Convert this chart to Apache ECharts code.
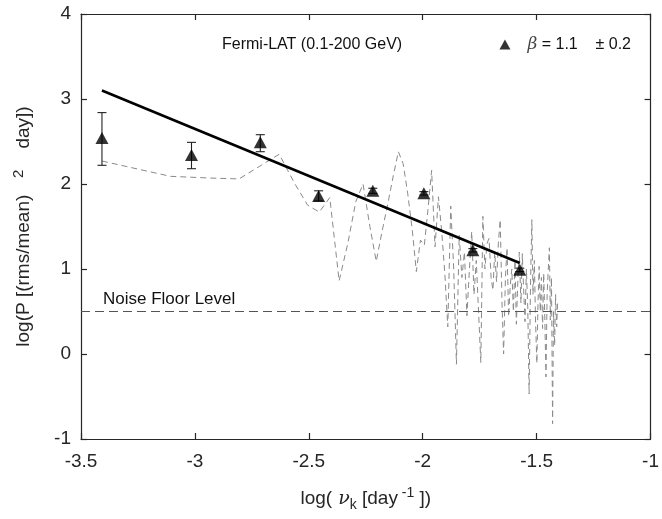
<!DOCTYPE html>
<html>
<head>
<meta charset="utf-8">
<script src="https://cdn.jsdelivr.net/npm/echarts@6/dist/echarts.min.js"></script>
<style>
html,body{margin:0;padding:0;background:#fff;}
#c{width:662px;height:519px;}
</style>
</head>
<body>
<div id="c"></div>
<script>
// ---- data ----
const xTicks = [-3.5, -3, -2.5, -2, -1.5, -1];
const yTicks = [-1, 0, 1, 2, 3, 4];

// periodogram (grey dashed line)
const periodX = [-3.408,-3.107,-2.931,-2.806,-2.709,-2.630,-2.563,-2.505,-2.454,-2.408,
  -2.367,-2.329,-2.294,-2.262,-2.232,-2.204,-2.178,-2.153,-2.129,-2.107,
  -2.086,-2.066,-2.046,-2.028,-2.010,-1.993,-1.977,-1.961,-1.946,-1.931,
  -1.917,-1.903,-1.890,-1.877,-1.864,-1.852,-1.840,-1.828,-1.817,-1.806,
  -1.795,-1.785,-1.775,-1.765,-1.755,-1.745,-1.736,-1.727,-1.718,-1.709,
  -1.700,-1.692,-1.684,-1.676,-1.668,-1.660,-1.652,-1.645,-1.637,-1.630,
  -1.623,-1.616,-1.609,-1.602,-1.595,-1.589,-1.582,-1.576,-1.569,-1.563,
  -1.557,-1.551,-1.545,-1.539,-1.533,-1.527,-1.521,-1.516,-1.510,-1.505,
  -1.499,-1.494,-1.489,-1.484,-1.479,-1.474,-1.469,-1.464,-1.459,-1.454,
  -1.449,-1.444,-1.440,-1.435,-1.430,-1.426,-1.421,-1.417,-1.412,-1.408];
const periodY = [2.27,2.09,2.07,2.06,2.22,2.35,2.01,1.75,1.67,1.84,
  0.86,1.30,1.79,2.00,1.50,1.09,1.45,1.77,2.10,2.38,
  2.24,1.89,1.46,0.97,1.34,1.28,1.70,2.16,1.26,1.85,
  1.45,0.95,0.32,1.74,1.00,-0.12,1.40,0.90,1.20,0.45,
  1.00,1.44,0.70,1.10,0.50,-0.10,1.62,1.00,1.30,1.36,
  0.90,0.75,1.20,0.85,1.30,1.58,0.60,0.00,0.90,1.25,
  0.44,0.80,1.00,0.50,1.10,0.35,0.90,1.20,0.60,1.18,
  0.75,0.38,1.00,0.55,-0.47,0.80,1.58,0.70,1.10,0.40,
  -0.11,0.60,1.03,0.50,0.90,0.30,0.95,0.40,-0.27,0.70,
  1.00,1.25,0.40,0.90,-0.82,0.50,0.10,0.70,0.32,0.60];

// binned points with error bars
const binX  = [-3.408,-3.015,-2.713,-2.457,-2.219,-1.995,-1.780,-1.574];
const binY  = [2.54, 2.34, 2.49, 1.86, 1.92, 1.89, 1.22, 0.99];
const binLo = [2.22, 2.18, 2.38, 1.80, 1.89, 1.87, 1.20, 0.97];
const binHi = [2.84, 2.49, 2.58, 1.92, 1.95, 1.91, 1.24, 1.01];

// power-law fit
const fitX = [-3.408, -1.574];
const fitY = [3.10, 1.07];

const noiseLevel = 0.5;
const noiseLabel = 'Noise Floor Level';
const titleText = 'Fermi-LAT (0.1-200 GeV)';
const legendName = 'beta';
// ---------------------------------------------

const font = '"Liberation Sans", Arial, Helvetica, sans-serif';
const axisColor = '#262626';

const chart = echarts.init(document.getElementById('c'), null, {renderer: 'canvas'});

const zip = (a, b) => a.map((v, i) => [v, b[i]]);

const xBase = {
  type: 'value', min: xTicks[0], max: xTicks[xTicks.length - 1], interval: 0.5,
  splitLine: {show: false},
  axisLine: {show: true, onZero: false, lineStyle: {color: axisColor, width: 1.2}},
  axisTick: {show: true, inside: true, length: 6, lineStyle: {color: axisColor, width: 1.2}}
};
const yBase = {
  type: 'value', min: yTicks[0], max: yTicks[yTicks.length - 1], interval: 1,
  splitLine: {show: false},
  axisLine: {show: true, onZero: false, lineStyle: {color: axisColor, width: 1.2}},
  axisTick: {show: true, inside: true, length: 6, lineStyle: {color: axisColor, width: 1.2}}
};

const option = {
  backgroundColor: '#fff',
  animation: false,
  textStyle: {fontFamily: font},
  grid: {left: 81, right: 4.5, top: 14, bottom: 80, containLabel: false},
  title: {
    text: titleText, left: 217, top: 32,
    textStyle: {fontFamily: font, fontSize: 16, fontWeight: 'normal', color: '#111'}
  },
  legend: {
    show: true, right: 26, top: 31, icon: 'triangle', itemWidth: 11, itemHeight: 10, itemGap: 6,
    data: [legendName],
    formatter: () => '{g|}{b|β}{n| = 1.1    ± 0.2}',
    textStyle: {
      color: '#111', fontSize: 16, fontFamily: font,
      rich: {
        g: {width: 12},
        b: {fontSize: 17, fontStyle: 'italic', fontFamily: '"DejaVu Serif", serif', color: '#444'},
        n: {fontSize: 16, fontFamily: font, color: '#111'}
      }
    }
  },
  xAxis: [
    Object.assign({}, xBase, {
      position: 'bottom',
      axisLabel: {show: true, fontSize: 19, color: axisColor, margin: 13, fontFamily: font},
      name: '{a|log(}{i| ν}{s|k}{a| [day}{p| -1}{a| ])}',
      nameLocation: 'middle', nameGap: 47,
      nameTextStyle: {
        fontFamily: font, color: axisColor,
        rich: {
          a: {fontSize: 19, lineHeight: 26, verticalAlign: 'middle'},
          i: {fontSize: 19, fontStyle: 'italic', fontFamily: '"DejaVu Serif", serif', lineHeight: 26, verticalAlign: 'middle'},
          s: {fontSize: 14, lineHeight: 12, verticalAlign: 'bottom'},
          p: {fontSize: 14, lineHeight: 12, verticalAlign: 'top'}
        }
      }
    }),
    Object.assign({}, xBase, {position: 'top', axisLabel: {show: false}})
  ],
  yAxis: [
    Object.assign({}, yBase, {
      position: 'left',
      axisLabel: {show: true, fontSize: 19, color: axisColor, margin: 10, fontFamily: font},
      name: '{a|log(P [(rms/mean)}{p|    2}{a|    day])}',
      nameLocation: 'middle', nameGap: 44, nameRotate: 90,
      nameTextStyle: {
        fontFamily: font, color: axisColor,
        rich: {
          a: {fontSize: 19, lineHeight: 26, verticalAlign: 'middle'},
          p: {fontSize: 15, lineHeight: 14, verticalAlign: 'top'}
        }
      }
    }),
    Object.assign({}, yBase, {position: 'right', axisLabel: {show: false}})
  ],
  series: [
    {
      name: 'periodogram', type: 'line', data: zip(periodX, periodY),
      showSymbol: false, symbol: 'none', silent: true, z: 2,
      lineStyle: {color: '#8a8a8a', width: 1, type: [6, 4]}
    },
    {
      name: 'noise', type: 'line', data: [], silent: true, z: 1,
      markLine: {
        silent: true, symbol: 'none', animation: false,
        lineStyle: {color: '#555', width: 1.2, type: [9, 5]},
        label: {show: true, position: 'insideStartTop', formatter: noiseLabel,
                fontSize: 17, color: '#111', fontFamily: font, distance: [22, 4]},
        data: [{yAxis: noiseLevel}]
      }
    },
    {
      name: 'fit', type: 'line', data: zip(fitX, fitY), showSymbol: false, symbol: 'none',
      silent: true, z: 4, lineStyle: {color: '#000', width: 2.6}
    },
    {
      name: 'errors', type: 'custom', z: 5, silent: true,
      data: binX.map((x, i) => [x, binLo[i], binHi[i]]),
      renderItem: (params, api) => {
        const x = api.value(0), lo = api.value(1), hi = api.value(2);
        const pt = api.coord([x, hi]), pb = api.coord([x, lo]);
        const w = 4.5;
        const st = {stroke: '#222', lineWidth: 1.1};
        return {type: 'group', children: [
          {type: 'line', shape: {x1: pt[0], y1: pt[1], x2: pb[0], y2: pb[1]}, style: st},
          {type: 'line', shape: {x1: pt[0] - w, y1: pt[1], x2: pt[0] + w, y2: pt[1]}, style: st},
          {type: 'line', shape: {x1: pb[0] - w, y1: pb[1], x2: pb[0] + w, y2: pb[1]}, style: st}
        ]};
      }
    },
    {
      name: legendName, type: 'scatter', data: zip(binX, binY), z: 6,
      symbol: 'triangle', symbolSize: [13, 12],
      itemStyle: {color: '#000'}
    }
  ]
};
chart.setOption(option);
</script>
</body>
</html>
